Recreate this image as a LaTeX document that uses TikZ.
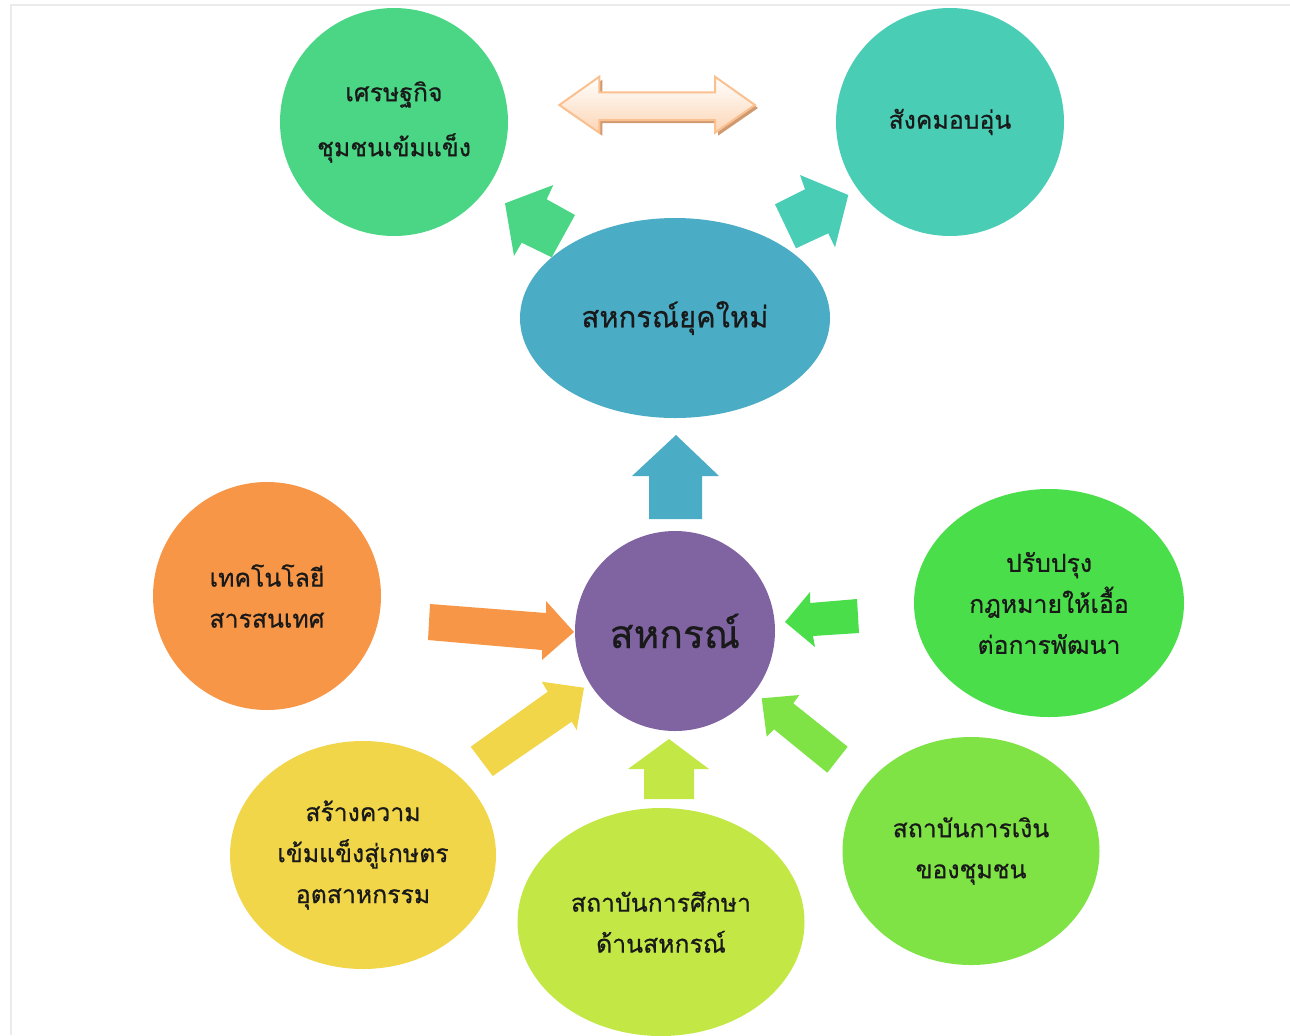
\documentclass[tikz,border=0pt]{standalone}
\usepackage{fontspec}
\newfontfamily\thai[Script=Thai,FakeBold=0.6]{Loma}
\usetikzlibrary{shapes.geometric}
\definecolor{cEco}{RGB}{74,214,132}
\definecolor{cSoc}{RGB}{74,205,181}
\definecolor{cNew}{RGB}{75,172,198}
\definecolor{cCoop}{RGB}{128,100,162}
\definecolor{cTech}{RGB}{247,150,70}
\definecolor{cLaw}{RGB}{74,222,74}
\definecolor{cAgri}{RGB}{240,214,72}
\definecolor{cEdu}{RGB}{195,232,69}
\definecolor{cFin}{RGB}{127,227,69}
\definecolor{cPeach}{RGB}{252,213,181}
\definecolor{cPeachLine}{RGB}{250,192,144}
\definecolor{cPeachShadow}{RGB}{208,154,112}
\definecolor{cFrame}{RGB}{235,235,235}
\tikzset{
  blob/.style={ellipse, inner sep=0pt, align=center, text=black!90,
    font=\thai\fontsize{12.4}{20.5}\selectfont},
}
\begin{document}
\begin{tikzpicture}[x=0.5pt,y=-0.5pt]
\useasboundingbox (0,0) rectangle (1290,1035);
\draw[cFrame, line width=1pt] (11,1035) -- (11,5) -- (1290,5);

% circles / ellipses
\node[blob, fill=cEco, minimum width=114pt, minimum height=114pt,
  font=\thai\fontsize{12.4}{27.5}\selectfont] (eco) at (394,122) {เศรษฐกิจ\\ชุมชนเข้มแข็ง};
\node[blob, fill=cSoc, minimum width=114pt, minimum height=114pt] (soc) at (950,122) {สังคมอบอุ่น};
\node[blob, fill=cNew, minimum width=155pt, minimum height=100pt,
  font=\thai\fontsize{14.6}{20}\selectfont] (new) at (675,318) {สหกรณ์ยุคใหม่};
\node[blob, fill=cCoop, minimum width=100pt, minimum height=100pt,
  font=\thai\fontsize{19.5}{30}\selectfont] (coop) at (675,631) {สหกรณ์};
\node[blob, fill=cTech, minimum width=114pt, minimum height=114pt] (tech) at (267,596) {เทคโนโลยี\\สารสนเทศ};
\node[blob, fill=cLaw, minimum width=135pt, minimum height=114pt] (law) at (1049,603) {ปรับปรุง\\กฎหมายให้เอื้อ\\ต่อการพัฒนา};
\node[blob, fill=cAgri, minimum width=133pt, minimum height=114pt] (agri) at (363,855) {สร้างความ\\เข้มแข็งสู่เกษตร\\อุตสาหกรรม};
\node[blob, fill=cEdu, minimum width=143.5pt, minimum height=114pt] (edu) at (661,922) {สถาบันการศึกษา\\ด้านสหกรณ์};
\node[blob, fill=cFin, minimum width=128.5pt, minimum height=114pt] (fin) at (971,851) {สถาบันการเงิน\\ของชุมชน};

% block arrows
\fill[cNew] (676,435) -- (719,476) -- (702,476) -- (702,519) -- (649,519) -- (649,476) -- (632,476) -- cycle;
\fill[cEdu] (669,739) -- (709,769) -- (694,769) -- (694,799) -- (644,799) -- (644,769) -- (628,769) -- cycle;
\fill[cTech] (430,604) -- (546,613) -- (546,601) -- (574,632) -- (542,660) -- (542,650) -- (428,640) -- cycle;
\fill[cLaw] (785,622) -- (810,592) -- (810,603) -- (857,599) -- (859,633) -- (813,636) -- (815,647) -- cycle;
\fill[cAgri] (470.7,746.7) -- (547.7,691.7) -- (541.7,681.7) -- (584,687.7) -- (576.7,730) -- (571.7,721.7) -- (492.7,776) -- cycle;
\fill[cFin] (761.7,698.3) -- (799.3,695) -- (793.3,703.3) -- (847.7,746.7) -- (827.3,772.7) -- (774,729.3) -- (766.7,736.7) -- cycle;
\fill[cEco] (505,203.3) -- (553.3,185) -- (546.7,199.3) -- (575,215) -- (551.7,257.3) -- (521.7,242.7) -- (514,256) -- cycle;
\fill[cSoc] (800,175) -- (848.3,195) -- (835,247.3) -- (828.3,233.3) -- (796,248.3) -- (775,204.3) -- (805,189.3) -- cycle;

% double arrow
\fill[cPeachShadow] (562.3,108) -- (602.3,79.7) -- (602.3,95.3) -- (718,95.3) -- (718,79.7) -- (758,108) -- (718,135.7) -- (718,123) -- (602.3,123) -- (602.3,135.7) -- cycle;
\shade[top color=white, bottom color=cPeach, draw=cPeachLine, line width=1pt]
  (559.3,105) -- (599.3,76.7) -- (599.3,92.3) -- (715,92.3) -- (715,76.7) -- (755,105) -- (715,132.7) -- (715,120) -- (599.3,120) -- (599.3,132.7) -- cycle;
\end{tikzpicture}
\end{document}
